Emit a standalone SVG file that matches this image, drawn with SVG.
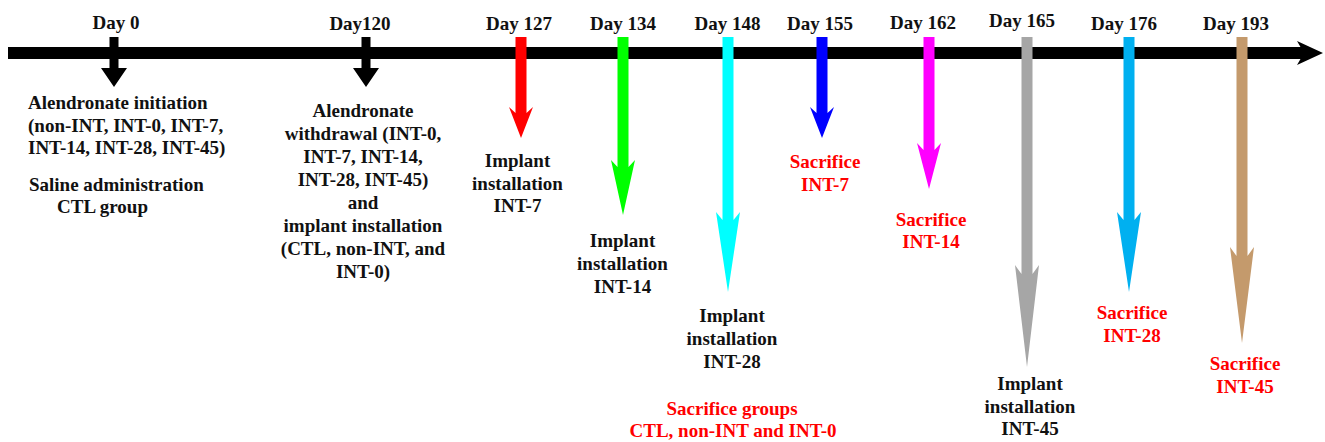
<svg xmlns="http://www.w3.org/2000/svg" width="1325" height="442" viewBox="0 0 1325 442">
<style>
svg g text.t, .t{font-family:'Liberation Serif',Tinos,'Times New Roman',serif !important;font-weight:bold;font-size:19px;}
.c{text-anchor:middle;}
</style>
<rect width="1325" height="442" fill="#fff"/>
<g id="connectors">
<rect x="8" y="47" width="1296" height="12" fill="#000"/>
<polygon points="1297,41 1323,53 1297,65 1304,53" fill="#000"/>
</g>
<g id="day0" fill="#111">
<text class="t c" style="font-family:'Liberation Serif',Tinos,serif !important" font-family="Liberation Serif" font-weight="bold" font-size="19" x="116" y="29">Day 0</text>
<path d="M109.5,37 H118.5 V68 H127 L114,87 L101,68 H109.5 Z" fill="#000"/>
<text class="t" style="font-family:'Liberation Serif',Tinos,serif !important" font-family="Liberation Serif" font-weight="bold" font-size="19" x="28" y="109">Alendronate initiation</text>
<text class="t" style="font-family:'Liberation Serif',Tinos,serif !important" font-family="Liberation Serif" font-weight="bold" font-size="19" x="28" y="131.5">(non-INT, INT-0, INT-7,</text>
<text class="t" style="font-family:'Liberation Serif',Tinos,serif !important" font-family="Liberation Serif" font-weight="bold" font-size="19" x="28" y="154">INT-14, INT-28, INT-45)</text>
<text class="t" style="font-family:'Liberation Serif',Tinos,serif !important" font-family="Liberation Serif" font-weight="bold" font-size="19" x="29" y="191">Saline administration</text>
<text class="t" style="font-family:'Liberation Serif',Tinos,serif !important" font-family="Liberation Serif" font-weight="bold" font-size="19" x="57" y="213">CTL group</text>
</g>
<g id="day120" fill="#111">
<text class="t c" style="font-family:'Liberation Serif',Tinos,serif !important" font-family="Liberation Serif" font-weight="bold" font-size="19" x="360" y="30">Day120</text>
<path d="M361.5,37 H370.5 V68 H379 L366,87 L353,68 H361.5 Z" fill="#000"/>
<text class="t c" style="font-family:'Liberation Serif',Tinos,serif !important" font-family="Liberation Serif" font-weight="bold" font-size="19" x="363" y="117">Alendronate</text>
<text class="t c" style="font-family:'Liberation Serif',Tinos,serif !important" font-family="Liberation Serif" font-weight="bold" font-size="19" x="363" y="140">withdrawal (INT-0,</text>
<text class="t c" style="font-family:'Liberation Serif',Tinos,serif !important" font-family="Liberation Serif" font-weight="bold" font-size="19" x="363" y="163">INT-7, INT-14,</text>
<text class="t c" style="font-family:'Liberation Serif',Tinos,serif !important" font-family="Liberation Serif" font-weight="bold" font-size="19" x="363" y="186">INT-28, INT-45)</text>
<text class="t c" style="font-family:'Liberation Serif',Tinos,serif !important" font-family="Liberation Serif" font-weight="bold" font-size="19" x="363" y="209">and</text>
<text class="t c" style="font-family:'Liberation Serif',Tinos,serif !important" font-family="Liberation Serif" font-weight="bold" font-size="19" x="363" y="232">implant installation</text>
<text class="t c" style="font-family:'Liberation Serif',Tinos,serif !important" font-family="Liberation Serif" font-weight="bold" font-size="19" x="363" y="255">(CTL, non-INT, and</text>
<text class="t c" style="font-family:'Liberation Serif',Tinos,serif !important" font-family="Liberation Serif" font-weight="bold" font-size="19" x="363" y="278">INT-0)</text>
</g>
<g id="day127" fill="#111">
<text class="t c" style="font-family:'Liberation Serif',Tinos,serif !important" font-family="Liberation Serif" font-weight="bold" font-size="19" x="519" y="30">Day 127</text>
<path d="M515.5,37 H526.5 V113 L533,107 L521,138 L509,107 L515.5,113 Z" fill="#ff0000"/>
<text class="t c" style="font-family:'Liberation Serif',Tinos,serif !important" font-family="Liberation Serif" font-weight="bold" font-size="19" x="517.5" y="167">Implant</text>
<text class="t c" style="font-family:'Liberation Serif',Tinos,serif !important" font-family="Liberation Serif" font-weight="bold" font-size="19" x="517.5" y="189.5">installation</text>
<text class="t c" style="font-family:'Liberation Serif',Tinos,serif !important" font-family="Liberation Serif" font-weight="bold" font-size="19" x="517.5" y="212">INT-7</text>
</g>
<g id="day134" fill="#111">
<text class="t c" style="font-family:'Liberation Serif',Tinos,serif !important" font-family="Liberation Serif" font-weight="bold" font-size="19" x="623" y="30">Day 134</text>
<path d="M617.5,37 H628.5 V167 L635,160 L623,215 L611,160 L617.5,167 Z" fill="#00ff00"/>
<text class="t c" style="font-family:'Liberation Serif',Tinos,serif !important" font-family="Liberation Serif" font-weight="bold" font-size="19" x="622.5" y="247">Implant</text>
<text class="t c" style="font-family:'Liberation Serif',Tinos,serif !important" font-family="Liberation Serif" font-weight="bold" font-size="19" x="622.5" y="270">installation</text>
<text class="t c" style="font-family:'Liberation Serif',Tinos,serif !important" font-family="Liberation Serif" font-weight="bold" font-size="19" x="622.5" y="293">INT-14</text>
</g>
<g id="day148" fill="#111">
<text class="t c" style="font-family:'Liberation Serif',Tinos,serif !important" font-family="Liberation Serif" font-weight="bold" font-size="19" x="727.5" y="30">Day 148</text>
<path d="M722.5,37 H733.5 V220 L740,212 L728,292 L716,212 L722.5,220 Z" fill="#00ffff"/>
<text class="t c" style="font-family:'Liberation Serif',Tinos,serif !important" font-family="Liberation Serif" font-weight="bold" font-size="19" x="732" y="322">Implant</text>
<text class="t c" style="font-family:'Liberation Serif',Tinos,serif !important" font-family="Liberation Serif" font-weight="bold" font-size="19" x="732" y="345">installation</text>
<text class="t c" style="font-family:'Liberation Serif',Tinos,serif !important" font-family="Liberation Serif" font-weight="bold" font-size="19" x="732" y="368">INT-28</text>
<text class="t c" style="font-family:'Liberation Serif',Tinos,serif !important" font-family="Liberation Serif" font-weight="bold" font-size="19" fill="#ff0000" x="732" y="415">Sacrifice groups</text>
<text class="t c" style="font-family:'Liberation Serif',Tinos,serif !important" font-family="Liberation Serif" font-weight="bold" font-size="19" fill="#ff0000" x="733" y="437">CTL, non-INT and INT-0</text>
</g>
<g id="day155" fill="#111">
<text class="t c" style="font-family:'Liberation Serif',Tinos,serif !important" font-family="Liberation Serif" font-weight="bold" font-size="19" x="820" y="30">Day 155</text>
<path d="M816.5,37 H827.5 V113 L834,107 L822,138 L810,107 L816.5,113 Z" fill="#0000ff"/>
<text class="t c" style="font-family:'Liberation Serif',Tinos,serif !important" font-family="Liberation Serif" font-weight="bold" font-size="19" fill="#ff0000" x="825" y="168">Sacrifice</text>
<text class="t c" style="font-family:'Liberation Serif',Tinos,serif !important" font-family="Liberation Serif" font-weight="bold" font-size="19" fill="#ff0000" x="825" y="191">INT-7</text>
</g>
<g id="day162" fill="#111">
<text class="t c" style="font-family:'Liberation Serif',Tinos,serif !important" font-family="Liberation Serif" font-weight="bold" font-size="19" x="923" y="29">Day 162</text>
<path d="M923.5,37 H934.5 V150 L941,143 L929,189 L917,143 L923.5,150 Z" fill="#ff00ff"/>
<text class="t c" style="font-family:'Liberation Serif',Tinos,serif !important" font-family="Liberation Serif" font-weight="bold" font-size="19" fill="#ff0000" x="931" y="226">Sacrifice</text>
<text class="t c" style="font-family:'Liberation Serif',Tinos,serif !important" font-family="Liberation Serif" font-weight="bold" font-size="19" fill="#ff0000" x="931" y="248">INT-14</text>
</g>
<g id="day165" fill="#111">
<text class="t c" style="font-family:'Liberation Serif',Tinos,serif !important" font-family="Liberation Serif" font-weight="bold" font-size="19" x="1022" y="27">Day 165</text>
<path d="M1021.5,37 H1032.5 V274 L1039,265 L1027,367 L1015,265 L1021.5,274 Z" fill="#a6a6a6"/>
<text class="t c" style="font-family:'Liberation Serif',Tinos,serif !important" font-family="Liberation Serif" font-weight="bold" font-size="19" x="1030" y="390">Implant</text>
<text class="t c" style="font-family:'Liberation Serif',Tinos,serif !important" font-family="Liberation Serif" font-weight="bold" font-size="19" x="1030" y="413">installation</text>
<text class="t c" style="font-family:'Liberation Serif',Tinos,serif !important" font-family="Liberation Serif" font-weight="bold" font-size="19" x="1030" y="435">INT-45</text>
</g>
<g id="day176" fill="#111">
<text class="t c" style="font-family:'Liberation Serif',Tinos,serif !important" font-family="Liberation Serif" font-weight="bold" font-size="19" x="1124" y="30">Day 176</text>
<path d="M1123.5,37 H1134.5 V220 L1141,212 L1129,292 L1117,212 L1123.5,220 Z" fill="#00b0f0"/>
<text class="t c" style="font-family:'Liberation Serif',Tinos,serif !important" font-family="Liberation Serif" font-weight="bold" font-size="19" fill="#ff0000" x="1132" y="319">Sacrifice</text>
<text class="t c" style="font-family:'Liberation Serif',Tinos,serif !important" font-family="Liberation Serif" font-weight="bold" font-size="19" fill="#ff0000" x="1132" y="342">INT-28</text>
</g>
<g id="day193" fill="#111">
<text class="t c" style="font-family:'Liberation Serif',Tinos,serif !important" font-family="Liberation Serif" font-weight="bold" font-size="19" x="1236" y="30">Day 193</text>
<path d="M1236.5,37 H1247.5 V256 L1254,247 L1242,343 L1230,247 L1236.5,256 Z" fill="#c49a6c"/>
<text class="t c" style="font-family:'Liberation Serif',Tinos,serif !important" font-family="Liberation Serif" font-weight="bold" font-size="19" fill="#ff0000" x="1245" y="370">Sacrifice</text>
<text class="t c" style="font-family:'Liberation Serif',Tinos,serif !important" font-family="Liberation Serif" font-weight="bold" font-size="19" fill="#ff0000" x="1245" y="393">INT-45</text>
</g>
</svg>
